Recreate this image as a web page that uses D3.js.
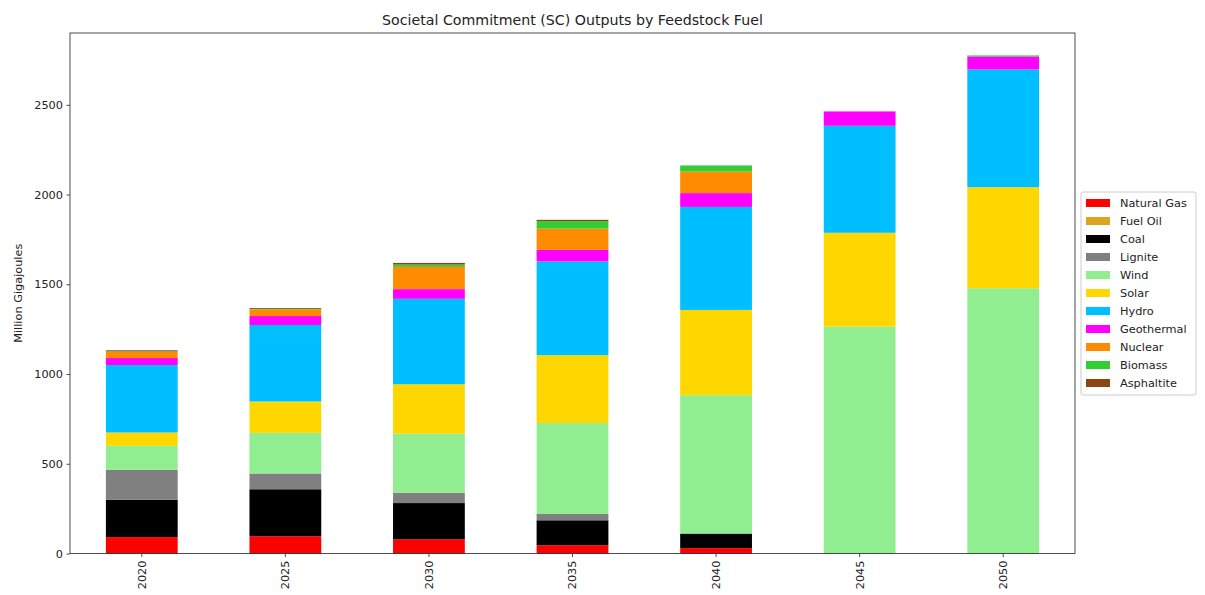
<!DOCTYPE html>
<html>
<head>
<meta charset="utf-8">
<script src="https://cdn.jsdelivr.net/npm/d3@7/dist/d3.min.js"></script>
<style>
  body { margin: 0; background: #fff; }
  svg { display: block; font-family: "DejaVu Sans", sans-serif; }
</style>
</head>
<body>
<svg id="chart" width="1205" height="595"></svg>
<script>
// Output by feedstock fuel, million gigajoules per model year
const years       = ["2020", "2025", "2030", "2035", "2040", "2045", "2050"];
const naturalGas  = [91, 96, 79, 46, 30, 0, 0];
const fuelOil     = [0, 0, 0, 0, 0, 0, 0];
const coal        = [208, 262, 202, 139, 81, 0, 0];
const lignite     = [167, 88, 58, 35, 0, 0, 0];
const wind        = [134, 226, 329, 507, 771, 1264, 1478];
const solar       = [74, 175, 275, 378, 475, 523, 563];
const hydro       = [376, 426, 476, 522, 574, 596, 656];
const geothermal  = [39, 50, 54, 65, 77, 80, 72];
const nuclear     = [35, 37, 124, 118, 120, 0, 0];
const biomass     = [2, 2, 13, 42, 34, 0, 6];
const asphaltite  = [6, 5, 9, 7, 0, 0, 0];
const yTicks      = [0, 500, 1000, 1500, 2000, 2500];

const fuels = [
  { name: "Natural Gas", values: naturalGas, color: "#ff0000" },
  { name: "Fuel Oil",    values: fuelOil,    color: "#daa520" },
  { name: "Coal",        values: coal,       color: "#000000" },
  { name: "Lignite",     values: lignite,    color: "#808080" },
  { name: "Wind",        values: wind,       color: "#90ee90" },
  { name: "Solar",       values: solar,      color: "#ffd700" },
  { name: "Hydro",       values: hydro,      color: "#00bfff" },
  { name: "Geothermal",  values: geothermal, color: "#ff00ff" },
  { name: "Nuclear",     values: nuclear,    color: "#ff8c00" },
  { name: "Biomass",     values: biomass,    color: "#32cd32" },
  { name: "Asphaltite",  values: asphaltite, color: "#8b4513" }
];

const table = years.map((yr, i) => {
  const row = { year: yr };
  fuels.forEach(f => { row[f.name] = f.values[i]; });
  return row;
});

const series = d3.stack().keys(fuels.map(f => f.name))(table);

const plot = { left: 70, right: 1075, top: 33, bottom: 553.5 };
const fontSize = 11.3;
const svg = d3.select("#chart");

const x = d3.scaleBand().domain(years).range([plot.left, plot.right])
  .paddingInner(0.5).paddingOuter(0.25);
const y = d3.scaleLinear().domain([0, 2900]).range([plot.bottom, plot.top]);

// stacked bars
svg.append("g").selectAll("g")
  .data(series)
  .join("g")
  .attr("fill", (d, i) => fuels[i].color)
  .selectAll("rect")
  .data(d => d)
  .join("rect")
  .attr("x", d => x(d.data.year))
  .attr("width", x.bandwidth())
  .attr("y", d => y(d[1]))
  .attr("height", d => Math.max(0, y(d[0]) - y(d[1])));

// axes
const yAxis = svg.append("g")
  .attr("transform", `translate(${plot.left},0)`)
  .call(d3.axisLeft(y).tickValues(yTicks).tickSize(3.5).tickPadding(3.5).tickFormat(d3.format("d")));
yAxis.select(".domain").remove();
yAxis.selectAll("text").attr("font-size", fontSize).attr("fill", "#222").attr("font-family", "DejaVu Sans");
yAxis.selectAll("line").attr("stroke", "#222").attr("stroke-width", 0.8);

const xAxis = svg.append("g")
  .attr("transform", `translate(0,${plot.bottom})`)
  .call(d3.axisBottom(x).tickSize(3.5).tickPadding(3.5));
xAxis.select(".domain").remove();
xAxis.selectAll("line").attr("stroke", "#222").attr("stroke-width", 0.8);
xAxis.selectAll("text")
  .attr("font-size", fontSize).attr("fill", "#222").attr("font-family", "DejaVu Sans")
  .attr("transform", "rotate(-90)")
  .attr("text-anchor", "end")
  .attr("dy", "0.35em")
  .attr("y", 0)
  .attr("x", -7);

// frame
svg.append("rect")
  .attr("x", plot.left).attr("y", plot.top)
  .attr("width", plot.right - plot.left).attr("height", plot.bottom - plot.top)
  .attr("fill", "none").attr("stroke", "#222").attr("stroke-width", 0.8);

// title and axis label
svg.append("text")
  .attr("x", (plot.left + plot.right) / 2).attr("y", 25)
  .attr("text-anchor", "middle")
  .attr("font-size", 14.2).attr("fill", "#222")
  .text("Societal Commitment (SC) Outputs by Feedstock Fuel");

svg.append("text")
  .attr("transform", `translate(22,${(plot.top + plot.bottom) / 2}) rotate(-90)`)
  .attr("text-anchor", "middle")
  .attr("font-size", fontSize).attr("fill", "#222")
  .text("Million Gigajoules");

// legend
const lg = svg.append("g").attr("transform", "translate(1081,192)");
lg.append("rect")
  .attr("x", 0).attr("y", 0).attr("width", 115).attr("height", 203)
  .attr("rx", 2).attr("fill", "#fff").attr("stroke", "#ccc").attr("stroke-width", 1);
const items = lg.selectAll("g.item")
  .data(fuels)
  .join("g")
  .attr("class", "item")
  .attr("transform", (d, i) => `translate(0,${11 + i * 18})`);
items.append("rect")
  .attr("x", 5).attr("y", -4).attr("width", 24).attr("height", 8)
  .attr("fill", d => d.color);
items.append("text")
  .attr("x", 39).attr("y", 0).attr("dy", "0.35em")
  .attr("font-size", fontSize).attr("fill", "#222")
  .text(d => d.name);
</script>
</body>
</html>
